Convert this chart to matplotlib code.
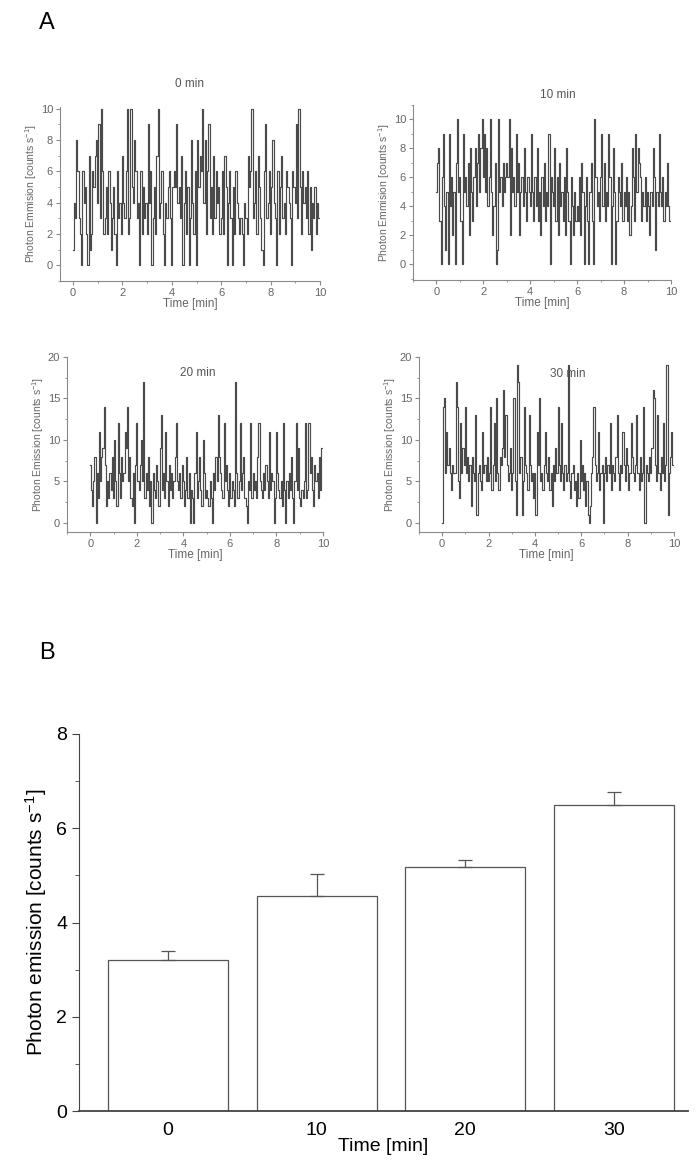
import numpy as np
import matplotlib.pyplot as plt
from matplotlib.ticker import MultipleLocator

plt.rcParams['font.family'] = ['Liberation Sans', 'DejaVu Sans']
plt.rcParams['mathtext.fontset'] = 'custom'
plt.rcParams['mathtext.rm'] = 'Liberation Sans'
plt.rcParams['mathtext.it'] = 'Liberation Sans'

# photon counts, one value every 3 s (20 per minute)
trace_0 = [1,4,3,8,6,3,2,0,6,4,5,2,0,7,1,2,6,5,7,8,
           4,9,3,10,6,2,3,5,2,6,4,1,3,5,2,0,6,3,4,2,
           7,4,3,6,10,2,3,10,5,4,8,6,3,4,0,6,2,5,3,4,
           2,9,4,6,0,3,5,2,7,10,3,4,6,2,0,4,3,5,6,3,
           0,5,6,5,9,4,5,3,7,0,4,6,2,5,0,3,8,4,2,6,
           0,8,5,7,6,10,4,8,2,6,9,3,5,2,7,3,6,4,5,2,
           3,6,2,7,5,0,4,6,3,0,5,2,6,4,3,2,3,2,0,4,
           3,2,7,5,6,10,3,4,6,2,7,5,3,1,0,6,9,3,4,6,
           2,5,8,4,3,0,6,2,5,7,3,4,2,6,5,4,3,0,6,5,
           4,9,3,10,5,2,6,4,5,3,6,2,5,1,4,3,5,2,4,3]
trace_10 = [5,7,8,3,0,6,9,4,1,5,0,9,4,6,2,5,0,7,10,5,
            6,3,0,9,5,6,4,7,2,8,5,3,6,8,4,7,9,5,8,10,
            6,9,5,8,4,6,10,5,2,4,7,0,1,10,5,6,4,7,5,6,
            7,6,10,2,8,5,6,4,9,5,7,2,5,6,4,8,5,3,6,5,
            4,9,5,3,6,4,8,3,5,2,6,4,7,3,5,4,9,0,6,5,
            4,8,3,6,2,7,4,5,3,6,2,8,5,3,0,6,4,2,5,3,
            4,3,6,2,7,5,0,4,6,3,0,5,7,3,0,10,6,4,5,3,
            6,9,4,7,3,5,4,9,6,0,4,8,5,0,3,6,5,4,7,3,
            5,4,6,3,5,2,4,8,6,3,9,5,8,7,6,3,5,4,6,3,
            5,4,2,5,4,8,6,1,5,4,9,5,4,6,3,5,4,7,4,3]
trace_20 = [7,4,2,5,8,0,6,3,11,5,8,9,14,7,2,5,3,6,4,8,
            3,10,5,2,12,6,3,8,5,6,11,9,14,5,8,3,2,6,0,7,
            12,5,4,7,10,5,17,3,6,4,8,2,5,0,6,4,3,7,5,2,
            9,13,4,6,3,11,5,2,7,4,6,3,5,8,12,5,4,6,3,7,
            5,2,4,8,3,6,0,4,3,0,6,11,3,5,8,4,2,10,6,3,
            4,3,2,5,3,0,6,4,8,5,13,8,6,4,3,12,5,7,4,2,
            6,3,5,4,2,17,6,3,5,12,4,6,8,3,2,0,5,4,12,3,
            6,4,5,3,8,12,5,4,3,6,4,7,5,3,11,4,6,5,0,3,
            11,6,4,3,5,2,12,4,0,5,3,6,4,8,3,0,5,12,4,9,
            3,2,4,3,5,12,3,4,12,6,8,4,2,7,5,6,3,8,4,9]
trace_30 = [0,14,15,6,11,7,9,6,4,7,6,6,17,14,5,3,12,6,9,7,
            14,6,8,5,7,2,8,6,5,13,1,6,7,5,4,11,6,7,5,8,
            5,6,14,4,7,12,5,15,6,4,8,7,9,16,8,13,7,5,6,9,
            4,6,15,5,1,19,17,6,8,1,5,14,7,6,4,13,7,5,6,3,
            6,1,11,7,15,5,6,4,7,11,6,5,8,4,6,2,7,5,9,6,
            14,7,5,12,6,4,7,5,6,19,5,3,6,7,4,5,2,6,3,10,
            5,7,4,6,2,5,1,0,2,6,8,14,7,5,6,11,4,6,7,0,
            6,8,5,7,6,12,4,7,6,5,8,13,6,4,7,6,11,7,5,9,
            7,4,6,12,8,6,5,7,13,6,4,8,5,6,14,0,7,6,5,8,
            6,9,16,15,7,5,13,6,4,8,6,12,5,7,19,1,6,8,11,7]

times = [0, 10, 20, 30]
means = [3.2, 4.57, 5.18, 6.5]
errs = [0.2, 0.45, 0.15, 0.27]

W, H = 700, 1168
fig = plt.figure(figsize=(W / 100, H / 100), dpi=100)


def box(l, r, t, b):
    return [l / W, 1 - b / H, (r - l) / W, (b - t) / H]


panels = [
    (trace_0, '0 min', box(60, 320, 107, 281), (-0.53, 10), (-1, 10.1), 2, 'Photon Emmision [counts s$^{-1}$]', (190, 84)),
    (trace_10, '10 min', box(413, 671, 105, 280), (-1, 10), (-1.1, 11), 2, 'Photon Emmision [counts s$^{-1}$]', (558, 95)),
    (trace_20, '20 min', box(67, 323, 357, 532), (-1, 10), (-1.1, 20), 5, 'Photon Emission [counts s$^{-1}$]', (198, 373)),
    (trace_30, '30 min', box(419, 674, 357, 532), (-1, 10), (-1.1, 20), 5, 'Photon Emission [counts s$^{-1}$]', (568, 374)),
]

grey = '#8a8a8a'
for trace, title, rect, xl, yl, ystep, ylab, tpos in panels:
    ax = fig.add_axes(rect)
    t = np.arange(len(trace)) * 0.05
    ax.plot(t, trace, drawstyle='steps-mid', color='#4a4a4a', lw=0.85)
    ax.set_xlim(*xl)
    ax.set_ylim(*yl)
    ax.spines['top'].set_visible(False)
    ax.spines['right'].set_visible(False)
    for s in ['left', 'bottom']:
        ax.spines[s].set_color(grey)
        ax.spines[s].set_linewidth(0.8)
    ax.xaxis.set_major_locator(MultipleLocator(2))
    ax.xaxis.set_minor_locator(MultipleLocator(1))
    ax.yaxis.set_major_locator(MultipleLocator(ystep))
    ax.yaxis.set_minor_locator(MultipleLocator(ystep / 2))
    ax.tick_params(which='both', direction='out', color=grey, labelcolor='#666666', labelsize=8, pad=2)
    ax.tick_params(which='major', length=3)
    ax.tick_params(which='minor', length=1.5)
    ax.set_xlabel('Time [min]', fontsize=8.5, color='#666666', labelpad=0)
    ax.set_ylabel(ylab, fontsize=7.5, color='#666666', labelpad=1)
    fig.text(tpos[0] / W, 1 - tpos[1] / H, title, ha='center', va='center', fontsize=8.5, color='#555555')

fig.text(47 / W, 1 - 23 / H, 'A', ha='center', va='center', fontsize=17)
fig.text(47 / W, 1 - 653 / H, 'B', ha='center', va='center', fontsize=17)

# panel B: mean photon emission
axb = fig.add_axes(box(79, 688, 734, 1111))
pos = np.arange(len(times))
axb.bar(pos, means, width=0.81, color='white', edgecolor='#555555', lw=0.9)
axb.errorbar(pos, means, yerr=[[0] * len(errs), errs], fmt='none', ecolor='#555555',
             elinewidth=0.9, capsize=5, capthick=0.9)
axb.set_xlim(-0.6, 3.5)
axb.set_ylim(0, 8)
axb.set_xticks(pos)
axb.set_xticklabels([str(v) for v in times])
axb.yaxis.set_major_locator(MultipleLocator(2))
axb.yaxis.set_minor_locator(MultipleLocator(1))
axb.spines['top'].set_visible(False)
axb.spines['right'].set_visible(False)
axb.spines['left'].set_color('#444444')
axb.spines['bottom'].set_color('#444444')
axb.spines['bottom'].set_linewidth(1.3)
axb.tick_params(axis='x', length=0, labelsize=14, pad=8)
axb.tick_params(axis='y', which='major', length=5, labelsize=14, color='#444444')
axb.tick_params(axis='y', which='minor', length=3, color='#444444')
axb.set_xlabel('Time [min]', fontsize=14, labelpad=-1)
axb.set_ylabel('Photon emission [counts s$^{-1}$]', fontsize=15, labelpad=5)

fig.savefig('out.png', dpi=100)
